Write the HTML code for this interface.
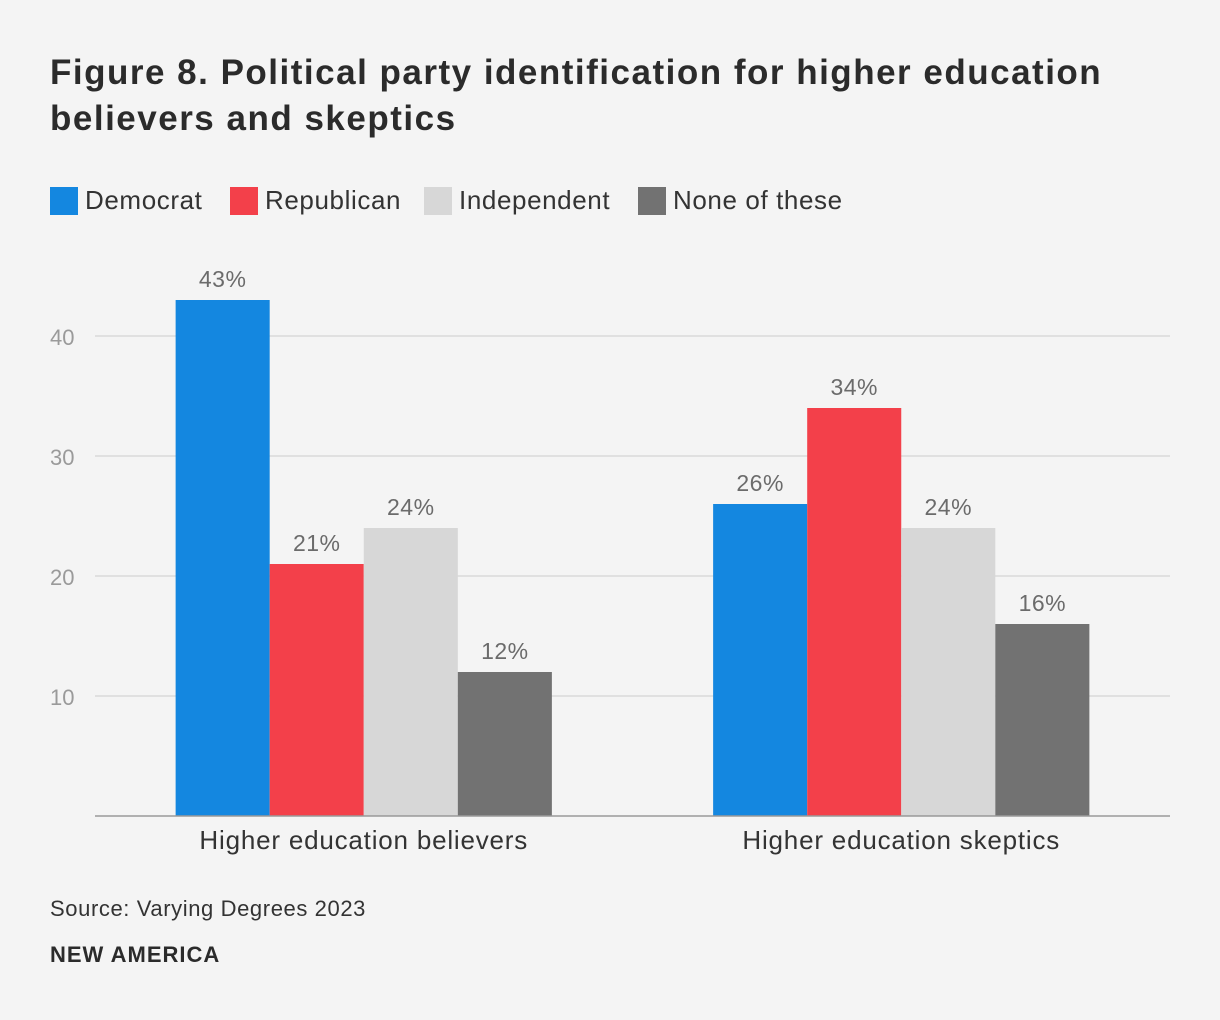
<!DOCTYPE html>
<html><head><meta charset="utf-8"><style>
body{margin:0;background:#f4f4f4;font-family:"Liberation Sans",Arial,sans-serif;}
#wrap{position:relative;width:1220px;height:1020px;background:#f4f4f4;overflow:hidden}
h1{position:absolute;left:50px;top:50px;margin:0;font-size:35px;letter-spacing:1.5px;line-height:46px;font-weight:bold;color:#2b2b2b;width:1150px;white-space:nowrap}
.leg{position:absolute;top:185px;display:flex;align-items:center;font-size:26px;letter-spacing:0.6px;color:#333}
.sw{width:28px;height:28px;margin-right:7px;display:inline-block}
.src{position:absolute;left:50px;top:896px;font-size:22px;letter-spacing:0.6px;color:#333}
.brand{position:absolute;left:50px;top:942px;font-size:22px;letter-spacing:1px;font-weight:bold;color:#2b2b2b}
</style></head><body>
<div id="wrap">
<h1>Figure 8. Political party identification for higher education<br>believers and skeptics</h1>
<div class="leg" style="left:50px"><span class="sw" style="background:#1487e0"></span>Democrat</div>
<div class="leg" style="left:230px"><span class="sw" style="background:#f3404a"></span>Republican</div>
<div class="leg" style="left:424px"><span class="sw" style="background:#d7d7d7"></span>Independent</div>
<div class="leg" style="left:638px"><span class="sw" style="background:#727272"></span>None of these</div>
<svg id="chart" width="1220" height="1020" style="position:absolute;left:0;top:0"></svg>
<div class="src">Source: Varying Degrees 2023</div>
<div class="brand">NEW AMERICA</div>
</div>
<script>
const categories=["Higher education believers","Higher education skeptics"];
const seriesNames=["Democrat","Republican","Independent","None of these"];
const democrat=[43,26];
const republican=[21,34];
const independent=[24,24];
const noneOfThese=[12,16];
const yTicks=[10,20,30,40];
const colors=["#1487e0","#f3404a","#d7d7d7","#727272"];
const series=[democrat,republican,independent,noneOfThese];
const NS="http://www.w3.org/2000/svg";
const svg=document.getElementById('chart');
const x0=95,x1=1170,yBase=816,pxPer=12;
const y=v=>yBase-v*pxPer;
const band=(x1-x0)/categories.length;
const bw=band*0.7/series.length;
function mk(t,a){const e=document.createElementNS(NS,t);for(const k in a)e.setAttribute(k,a[k]);svg.appendChild(e);return e;}
yTicks.forEach(t=>{
 const l=mk('line',{x1:x0,x2:x1,y1:y(t),y2:y(t),stroke:'#d9d9d9','stroke-width':1.5});
 
 
 const tx=mk('text',{x:50,y:y(t)+9,'font-size':22,fill:'#9a9a9a','font-family':'Liberation Sans, Arial, sans-serif'});
 tx.textContent=t;
 
 
});
categories.forEach((c,ci)=>{
 const cx=x0+band*(ci+0.5);
 const start=cx-bw*series.length/2;
 series.forEach((s,si)=>{
  const bx=start+si*bw;
  const r=mk('rect',{x:bx,y:y(s[ci]),width:bw,height:s[ci]*pxPer,fill:colors[si]});
  
  
  const lb=mk('text',{x:bx+bw/2,y:y(s[ci])-13,'text-anchor':'middle','font-size':23,'letter-spacing':0.5,fill:'#6b6b6b','font-family':'Liberation Sans, Arial, sans-serif'});
  lb.textContent=s[ci]+'%';
  
  
 });
 const ct=mk('text',{x:cx,y:849,'text-anchor':'middle','font-size':26,'letter-spacing':0.8,fill:'#333','font-family':'Liberation Sans, Arial, sans-serif'});
 ct.textContent=c;
 
 
});
const ax=mk('line',{x1:x0,x2:x1,y1:yBase,y2:yBase,stroke:'#999','stroke-width':1.5});


</script>
</body></html>
